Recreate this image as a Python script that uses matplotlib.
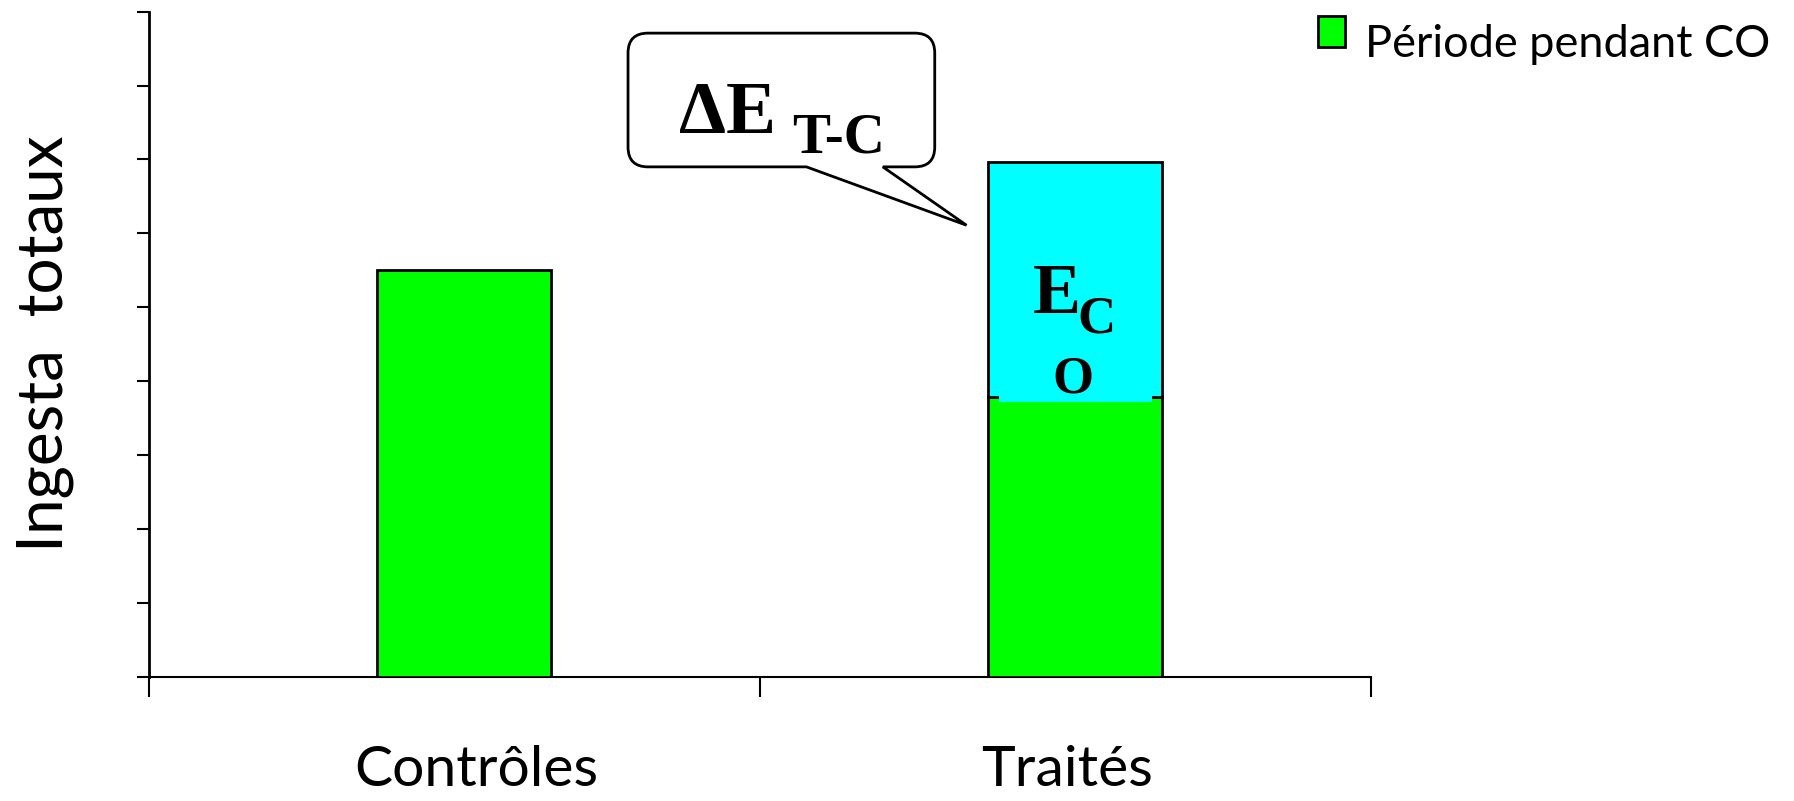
import numpy as np
import matplotlib.pyplot as plt
from matplotlib.path import Path
from matplotlib.patches import PathPatch, Rectangle
from matplotlib.legend_handler import HandlerPatch

# data
categories = ['Contrôles', 'Traités']
periode_co = [5.5, 3.78]      # green part
supplement_co = [0.0, 3.18]   # cyan part (only for Traités)
legend_label = 'Période pendant CO'

plt.rcParams['font.family'] = ['Lato', 'DejaVu Sans']

fig = plt.figure(figsize=(17.94, 8.01), dpi=100)
ax = fig.add_axes([149/1794, 124.3/801, 1222/1794, 665/801])

x = np.arange(len(categories)) + 0.5 + 0.015
width = 0.285

green = ax.bar(x, periode_co, width, color='#00FF00', edgecolor='black',
               linewidth=2, label=legend_label, zorder=3)
ax.bar(x[1], supplement_co[1], width, bottom=periode_co[1], color='#00FFFF',
       edgecolor='black', linewidth=2, zorder=3)
# the cyan fill spills a little over the seam, as in the original drawing
ax.add_patch(Rectangle((x[1] - width/2 + 0.018, periode_co[1] - 0.06),
                       width - 0.034, 0.1, facecolor='#00FFFF',
                       edgecolor='none', zorder=4))

ax.set_xlim(0, 2)
ax.set_ylim(0, 9)
ax.spines[['top', 'right']].set_visible(False)
ax.spines['left'].set_linewidth(2)
ax.spines['bottom'].set_linewidth(1.5)

ax.set_yticks(range(10))
ax.set_yticklabels([])
ax.tick_params(axis='y', length=9, width=1.5, direction='out')
ax.set_xticks([0, 1, 2])
ax.set_xticklabels([])
ax.tick_params(axis='x', which='major', length=14.5, width=1.5, direction='out')
ax.set_xticks([0.536, 1.503], minor=True)
ax.set_xticklabels(categories, minor=True, fontsize=41)
ax.tick_params(axis='x', which='minor', length=0, pad=49)

ax.set_ylabel('Ingesta  totaux', fontsize=46)
ax.yaxis.set_label_coords(-0.061, 0.5)

# callout bubble pointing at the cyan part
x0, x1, y0, y1 = 0.784, 1.286, 6.90, 8.71
rx, ry = 0.0327, 0.27
tb1, tb2, tip = 1.076, 1.201, (1.338, 6.11)
verts = [(x0 + rx, y1), (x1 - rx, y1), (x1, y1), (x1, y1 - ry),
         (x1, y0 + ry), (x1, y0), (x1 - rx, y0), (tb2, y0), tip, (tb1, y0),
         (x0 + rx, y0), (x0, y0), (x0, y0 + ry), (x0, y1 - ry), (x0, y1),
         (x0 + rx, y1), (x0 + rx, y1)]
codes = [Path.MOVETO, Path.LINETO, Path.CURVE3, Path.CURVE3,
         Path.LINETO, Path.CURVE3, Path.CURVE3, Path.LINETO, Path.LINETO,
         Path.LINETO, Path.LINETO, Path.CURVE3, Path.CURVE3, Path.LINETO,
         Path.CURVE3, Path.CURVE3, Path.CLOSEPOLY]
bubble = PathPatch(Path(verts, codes), facecolor='white', edgecolor='black',
                   linewidth=2, clip_on=False, zorder=5)
ax.add_patch(bubble)

serif = dict(family='Liberation Serif', fontweight='bold', color='black',
             va='baseline', ha='left', zorder=6, clip_on=False)
ax.text(0.868, 7.36, 'ΔE', fontsize=54, **serif)
ax.text(1.052, 7.10, 'T-C', fontsize=41, **serif)

ax.text(1.446, 4.92, 'E', fontsize=52, **serif)
ax.text(1.519, 4.66, 'C', fontsize=38, **serif)
ax.text(1.512, 3.84, 'O', fontsize=38, **{**serif, 'ha': 'center'})


def raised_square(legend, orig_handle, xdescent, ydescent, width, height, fontsize):
    return Rectangle((-xdescent, -ydescent + 7), width, height)


fig.legend(handles=[green[0]], labels=[legend_label], loc='upper left',
           bbox_to_anchor=(1318/1794, 1 - 24/801), frameon=False,
           fontsize=32.5, handlelength=0.6, handleheight=0.66,
           handletextpad=0.45, borderpad=0, borderaxespad=0,
           handler_map={green[0]: HandlerPatch(patch_func=raised_square)})

plt.savefig('out.png', dpi=100)
